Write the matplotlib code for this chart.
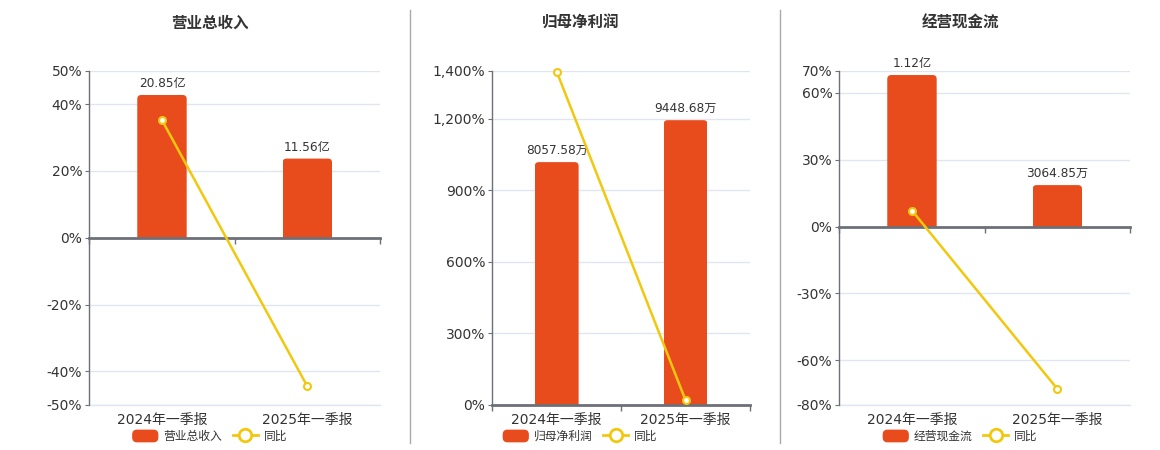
import matplotlib
matplotlib.use('Agg')
import matplotlib.pyplot as plt
from matplotlib.patches import FancyBboxPatch, Rectangle, Patch
from matplotlib.lines import Line2D
from matplotlib.legend_handler import HandlerPatch

plt.rcParams['font.family'] = ['DejaVu Sans', 'Noto Sans CJK SC']

# ---------------- data ----------------
categories = ['2024年一季报', '2025年一季报']
titles = ['营业总收入', '归母净利润', '经营现金流']
yoy_name = '同比'

revenue_values = [20.85, 11.56]          # 亿
revenue_labels = ['20.85亿', '11.56亿']
revenue_yoy = [35.2, -44.5]              # %

profit_values = [8057.58, 9448.68]       # 万
profit_labels = ['8057.58万', '9448.68万']
profit_yoy = [1397.0, 19.6]              # %

cash_values = [11200.0, 3064.85]         # 万
cash_labels = ['1.12亿', '3064.85万']
cash_yoy = [7.2, -72.9]                  # %

revenue_pct_ticks = [-50, -40, -20, 0, 20, 40, 50]
profit_pct_ticks = [0, 300, 600, 900, 1200, 1400]
cash_pct_ticks = [-80, -60, -30, 0, 30, 60, 70]

# ---------------- style / layout ----------------
W, H = 1160, 450
BAR_COLOR = '#E84C1D'
LINE_COLOR = '#F2C80F'
GRID_COLOR = '#E0E6F1'
AXIS_COLOR = '#6E7079'
TEXT_COLOR = '#333333'

panels = [
    dict(title=titles[0], values=revenue_values, labels=revenue_labels, yoy=revenue_yoy,
         ticks=revenue_pct_ticks, bar_top=24.4, rect=(89.3, 70.7, 380, 404.7), cx=210),
    dict(title=titles[1], values=profit_values, labels=profit_labels, yoy=profit_yoy,
         ticks=profit_pct_ticks, bar_top=11080, rect=(492.3, 71, 750, 405), cx=580.5),
    dict(title=titles[2], values=cash_values, labels=cash_labels, yoy=cash_yoy,
         ticks=cash_pct_ticks, bar_top=11520, rect=(839.3, 70.7, 1130, 404.7), cx=960.5),
]

fig = plt.figure(figsize=(W / 100, H / 100), dpi=100)
fig.patch.set_facecolor('white')


def rounded_handle(legend, orig_handle, xdescent, ydescent, width, height, fontsize):
    return FancyBboxPatch((-xdescent, -ydescent), width, height,
                          boxstyle='round,pad=0,rounding_size=3',
                          fc=BAR_COLOR, ec='none')


for p in panels:
    l, t, r, b = p['rect']
    ax = fig.add_axes([l / W, 1 - b / H, (r - l) / W, (b - t) / H])
    ticks = p['ticks']
    lo, hi = min(ticks), max(ticks)
    n = len(categories)
    xs = list(range(n))

    # percentage axis (base layer: grid + ticks)
    ax.set_xlim(-0.5, n - 0.5)
    ax.set_ylim(lo, hi)
    ax.set_yticks(ticks)
    ax.yaxis.set_major_formatter(lambda v, pos: f'{v:,.0f}%')
    ax.grid(axis='y', color=GRID_COLOR, lw=1)
    ax.set_axisbelow(True)
    for s in ('top', 'right'):
        ax.spines[s].set_visible(False)
    ax.spines['bottom'].set_color(GRID_COLOR)
    ax.spines['bottom'].set_linewidth(1)
    ax.spines['left'].set_color(AXIS_COLOR)
    ax.spines['left'].set_linewidth(1)
    ax.spines['left'].set_zorder(3)
    ax.tick_params(axis='y', length=3, color=AXIS_COLOR, labelsize=10,
                   labelcolor=TEXT_COLOR, pad=2)
    ax.set_xticks(xs)
    ax.set_xticklabels(categories)
    ax.tick_params(axis='x', length=0, pad=6, labelsize=10, labelcolor=TEXT_COLOR)

    # bar axis
    axb = ax.twinx()
    bar_lo = p['bar_top'] * lo / hi
    axb.set_ylim(bar_lo, p['bar_top'])
    axb.set_yticks([])
    for s in axb.spines.values():
        s.set_visible(False)
    bars = axb.bar(xs, p['values'], width=0.34, color=BAR_COLOR)
    xpp = n / (r - l)
    ypp = (p['bar_top'] - bar_lo) / (b - t)
    rpx = 4
    for rect in bars:
        x0, w, h = rect.get_x(), rect.get_width(), rect.get_height()
        rect.remove()
        ry = rpx * ypp
        patch = FancyBboxPatch((x0, -ry), w, h + ry,
                               boxstyle=f'round,pad=0,rounding_size={rpx * xpp}',
                               mutation_aspect=ypp / xpp, fc=BAR_COLOR, ec='none')
        axb.add_patch(patch)
        clip = Rectangle((x0, 0), w, h + ry, transform=axb.transData)
        patch.set_clip_path(clip)
    for i, (v, lbl) in enumerate(zip(p['values'], p['labels'])):
        axb.annotate(lbl, (xs[i], v), xytext=(0, 3.5), textcoords='offset points',
                     ha='center', va='bottom', fontsize=8.7, color=TEXT_COLOR)

    # line axis (top layer)
    axl = ax.twinx()
    axl.set_ylim(lo, hi)
    axl.set_yticks([])
    for s in axl.spines.values():
        s.set_visible(False)
    axl.plot(xs, p['yoy'], color=LINE_COLOR, lw=1.8, marker='o', ms=5,
             mfc='white', mec=LINE_COLOR, mew=1.5, clip_on=False, zorder=5)

    # zero category axis line with boundary ticks
    zloc = (0 - lo) / (hi - lo)
    sec = axl.secondary_xaxis(zloc)
    try:
        sec.set_alignment('bottom')
    except Exception:
        pass
    sec.set_xticks([i - 0.5 for i in range(n + 1)])
    sec.tick_params(axis='x', length=4, width=1, color=AXIS_COLOR, direction='out',
                    labelbottom=False, labeltop=False, bottom=True, top=False)
    for s in sec.spines.values():
        s.set_color(AXIS_COLOR)
        s.set_linewidth(2)

    # title
    fig.text(p['cx'] / W, 1 - 23 / H, p['title'], ha='center', va='center',
             fontsize=11.2, fontweight='bold', color=TEXT_COLOR)

    # legend
    handles = [Patch(color=BAR_COLOR, label=p['title']),
               Line2D([], [], color=LINE_COLOR, lw=2, marker='o', ms=9, mfc='white',
                      mec=LINE_COLOR, mew=2, label=yoy_name)]
    fig.legend(handles=handles, loc='center', bbox_to_anchor=(p['cx'] / W, 1 - 436.5 / H),
               ncol=2, frameon=False, fontsize=8.5, handlelength=2.1, handleheight=1.1,
               handletextpad=0.5, columnspacing=0.9, labelcolor=TEXT_COLOR,
               handler_map={Patch: HandlerPatch(patch_func=rounded_handle)})

# separators between panels
for sx in (410.3, 780.3):
    fig.add_artist(Line2D([sx / W, sx / W], [1 - 443 / H, 1 - 10 / H],
                          transform=fig.transFigure, color='#AAAAAA', lw=1))

fig.savefig('out.png', dpi=100, facecolor='white')
